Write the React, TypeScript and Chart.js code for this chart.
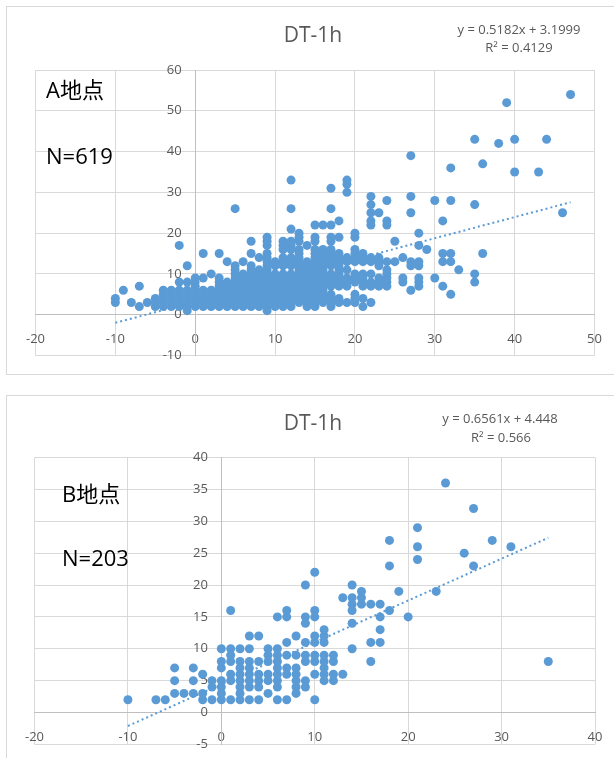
import React, { useEffect, useRef } from "react";
import { Chart, registerables } from "chart.js";

Chart.register(...registerables);

// ---------- Site A (N=619) : x columns and the y values observed in each ----------
const A_X = [
  -10, -9, -8, -7, -6, -5, -4, -3, -2, -1, 0, 1, 2, 3, 4, 5, 6, 7, 8, 9, 10, 11, 12, 13, 14, 15,
  16, 17, 18, 19, 20, 21, 22, 23, 24, 25, 26, 27, 28, 29, 30, 31, 32, 33, 35, 36, 38, 39, 40, 43, 44, 46, 47,
];
const A_Y: number[][] = [
  [3, 4],
  [6],
  [3],
  [7, 2],
  [3],
  [4, 3, 2],
  [6, 5, 4, 3, 2],
  [6, 5, 4, 3, 2],
  [17, 8, 6, 5, 4, 3, 2],
  [12, 8, 6, 5, 4, 3, 2, 1],
  [9, 8, 7, 6, 5, 4, 3, 2],
  [15, 9, 6, 5, 4, 3, 2],
  [10, 6, 5, 4, 3, 2],
  [15, 9, 8, 7, 6, 5, 4, 3, 2],
  [13, 8, 7, 6, 5, 4, 3, 2],
  [26, 12, 11, 10, 9, 8, 7, 6, 5, 4, 3, 2],
  [13, 10, 9, 8, 7, 6, 5, 4, 3, 2],
  [18, 15, 12, 11, 10, 9, 8, 7, 6, 5, 4, 3, 2],
  [14, 11, 10, 9, 8, 7, 6, 5, 4, 3, 2],
  [19, 18, 17, 15, 14, 13, 12, 11, 10, 9, 8, 7, 6, 5, 4, 3, 2, 1],
  [13, 12, 10, 9, 8, 7, 6, 5, 4, 3, 2],
  [18, 17, 16, 14, 13, 12, 10, 9, 8, 7, 6, 5, 4, 3, 2],
  [33, 26, 21, 18, 17, 16, 14, 13, 12, 10, 9, 8, 7, 6, 5, 4, 3, 2],
  [20, 19, 18, 16, 15, 14, 13, 12, 11, 10, 9, 8, 7, 6, 5, 4, 3],
  [17, 13, 12, 11, 10, 9, 8, 7, 6, 5, 4, 3, 2],
  [22, 19, 18, 16, 15, 14, 13, 12, 11, 10, 9, 8, 7, 6, 5, 4, 3, 2],
  [22, 16, 15, 14, 13, 12, 11, 10, 9, 8, 7, 6, 5, 4, 3],
  [31, 26, 22, 19, 18, 16, 15, 14, 13, 12, 10, 9, 8, 7, 5, 4, 3, 2],
  [23, 19, 15, 14, 13, 12, 11, 10, 9, 8, 7, 4, 3],
  [33, 32, 30, 14, 13, 11, 9, 8, 7, 3],
  [20, 19, 16, 15, 14, 13, 10, 9, 8, 5, 4, 3],
  [15, 14, 13, 10, 9, 8, 7, 4, 2],
  [29, 27, 25, 23, 22, 14, 13, 10, 8, 7, 3],
  [25, 14, 13, 12, 9, 8, 7],
  [28, 23, 22, 13, 11, 10, 9, 8, 7],
  [18, 13],
  [14, 9, 8],
  [39, 29, 25, 13, 12, 6],
  [20, 17, 13, 12, 9, 8, 7],
  [16],
  [28, 9],
  [23, 15, 13, 7],
  [36, 28, 15, 13, 5],
  [11],
  [43, 27, 10, 8],
  [37, 15],
  [42],
  [52],
  [43, 35],
  [35],
  [43],
  [25],
  [54],
];
const A_TREND_X = [-10, 47];
const A_TREND_Y = [-1.98, 27.56];
const A_X_TICKS = { min: -20, max: 50, step: 10 };
const A_Y_TICKS = { min: -10, max: 60, step: 10 };

// ---------- Site B (N=203) ----------
const B_X = [
  -10, -7, -6, -5, -4, -3, -2, -1, 0, 1, 2, 3, 4, 5, 6, 7, 8, 9, 10, 11, 12, 13, 14, 15, 16, 17, 18,
  19, 20, 21, 23, 24, 26, 27, 29, 31, 35,
];
const B_Y: number[][] = [
  [2],
  [2],
  [2],
  [7, 5, 3],
  [3],
  [7, 5, 3],
  [6, 3, 2],
  [5, 4, 2],
  [10, 8, 7, 5, 4, 3, 2],
  [16, 10, 9, 8, 6, 5, 2],
  [10, 8, 7, 6, 5, 4, 3, 2],
  [12, 10, 8, 7, 6, 5, 4, 2],
  [12, 8, 6, 5, 4, 2],
  [10, 9, 8, 6, 5, 3],
  [15, 10, 9, 8, 7, 6, 5, 4, 2],
  [16, 15, 11, 9, 7, 6, 2],
  [12, 9, 7, 6, 5, 4, 3],
  [20, 15, 14, 11, 9, 8, 5, 4],
  [22, 16, 15, 12, 11, 9, 8, 6, 2],
  [13, 12, 11, 9, 8, 7, 6, 5],
  [9, 8, 6, 5],
  [18, 6],
  [20, 18, 17, 16, 14, 10],
  [19, 18, 17],
  [17, 11, 8],
  [17, 15, 13, 11],
  [27, 23, 16],
  [19],
  [15],
  [29, 26, 24],
  [19],
  [36],
  [25],
  [32, 23],
  [27],
  [26],
  [8],
];
const B_TREND_X = [-10, 35];
const B_TREND_Y = [-2.11, 27.41];
const B_X_TICKS = { min: -20, max: 40, step: 10 };
const B_Y_TICKS = { min: -5, max: 40, step: 5 };

// ---------- texts ----------
const TITLE = "DT-1h";
const A_EQ = ["y = 0.5182x + 3.1999", "R² = 0.4129"];
const B_EQ = ["y = 0.6561x + 4.448", "R² = 0.566"];
const A_LABELS = ["A地点", "N=619"];
const B_LABELS = ["B地点", "N=203"];

const FONT = '"Open Sans", "Noto Sans CJK JP", sans-serif';
const BLUE = "#5b9bd5";
const GRID = "#d9d9d9";
const AXIS = "#bfbfbf";
const TEXT = "#595959";

type TextItem = { text: string; x: number; y: number; size: number; color: string; align: CanvasTextAlign };

const textPlugin = {
  id: "texts",
  afterDraw(chart: any, _args: any, opts: any) {
    const ctx = chart.ctx as CanvasRenderingContext2D;
    const items: TextItem[] = (opts && opts.items) || [];
    ctx.save();
    for (const it of items) {
      ctx.font = `${it.size}px ${FONT}`;
      ctx.fillStyle = it.color;
      ctx.textAlign = it.align;
      ctx.textBaseline = "middle";
      ctx.fillText(it.text, it.x, it.y);
    }
    ctx.restore();
  },
};

function buildPoints(xs: number[], ys: number[][]) {
  const pts: { x: number; y: number }[] = [];
  xs.forEach((x, i) => ys[i].forEach((y) => pts.push({ x, y })));
  return pts;
}

function makeConfig(
  xs: number[],
  ys: number[][],
  tx: number[],
  ty: number[],
  xt: { min: number; max: number; step: number },
  yt: { min: number; max: number; step: number },
  padding: any,
  texts: TextItem[]
): any {
  const tickFont = { family: FONT, size: 13 };
  return {
    type: "scatter",
    data: {
      datasets: [
        {
          type: "line",
          data: tx.map((x, i) => ({ x, y: ty[i] })),
          borderColor: BLUE,
          borderWidth: 2,
          borderDash: [2, 3],
          pointRadius: 0,
          fill: false,
          order: 0,
        },
        {
          data: buildPoints(xs, ys),
          backgroundColor: BLUE,
          borderColor: BLUE,
          borderWidth: 0,
          pointRadius: 4.5,
          order: 1,
        },
      ],
    },
    options: {
      animation: false,
      responsive: false,
      maintainAspectRatio: false,
      layout: { padding, autoPadding: false },
      plugins: {
        legend: { display: false },
        title: { display: false },
        tooltip: { enabled: false },
        texts: { items: texts },
      },
      scales: {
        x: {
          type: "linear",
          position: { y: 0 },
          min: xt.min,
          max: xt.max,
          ticks: { stepSize: xt.step, padding: 17, color: TEXT, font: tickFont, maxRotation: 0, autoSkip: false },
          grid: { color: GRID, drawTicks: false, lineWidth: 1 },
          border: { color: AXIS, width: 1 },
        },
        y: {
          type: "linear",
          position: { x: 0 },
          min: yt.min,
          max: yt.max,
          ticks: {
            stepSize: yt.step,
            padding: 0,
            color: TEXT,
            font: tickFont,
            autoSkip: false,
            callback: (v: any) => `${v}    `,
          },
          grid: { color: GRID, drawTicks: false, lineWidth: 1 },
          border: { color: AXIS, width: 1 },
        },
      },
    },
    plugins: [textPlugin],
  };
}

function ChartCanvas(props: { config: any; left: number; top: number; width: number; height: number }) {
  const ref = useRef<HTMLCanvasElement | null>(null);
  useEffect(() => {
    if (!ref.current) return;
    const chart = new Chart(ref.current, props.config);
    return () => chart.destroy();
  }, []);
  return (
    <canvas
      ref={ref}
      width={props.width}
      height={props.height}
      style={{ position: "absolute", left: props.left, top: props.top, width: props.width, height: props.height }}
    />
  );
}

export default function App() {
  const textsA: TextItem[] = [
    { text: TITLE, x: 313, y: 29, size: 21, color: TEXT, align: "center" },
    { text: A_EQ[0], x: 519, y: 23.5, size: 13, color: TEXT, align: "center" },
    { text: A_EQ[1], x: 519, y: 41.5, size: 13, color: TEXT, align: "center" },
    { text: A_LABELS[0], x: 46, y: 85, size: 22, color: "#000000", align: "left" },
    { text: A_LABELS[1], x: 46, y: 151, size: 22, color: "#000000", align: "left" },
  ];
  const textsB: TextItem[] = [
    { text: TITLE, x: 313, y: 28, size: 21, color: TEXT, align: "center" },
    { text: B_EQ[0], x: 500, y: 23.5, size: 13, color: TEXT, align: "center" },
    { text: B_EQ[1], x: 501, y: 42, size: 13, color: TEXT, align: "center" },
    { text: B_LABELS[0], x: 62, y: 100, size: 22, color: "#000000", align: "left" },
    { text: B_LABELS[1], x: 62, y: 164, size: 22, color: "#000000", align: "left" },
  ];
  const cfgA = makeConfig(A_X, A_Y, A_TREND_X, A_TREND_Y, A_X_TICKS, A_Y_TICKS,
    { left: 35.5, top: 63, right: 45.5, bottom: 17.5 }, textsA);
  const cfgB = makeConfig(B_X, B_Y, B_TREND_X, B_TREND_Y, B_X_TICKS, B_Y_TICKS,
    { left: 34.5, top: 61.5, right: 45, bottom: 13.6 }, textsB);

  return (
    <div style={{ position: "absolute", left: 0, top: 0, width: 614, height: 758, overflow: "hidden", background: "#fff" }}>
      <div style={{ position: "absolute", left: 6, top: 6, width: 640, height: 369, border: `1px solid ${GRID}`, boxSizing: "border-box" }} />
      <div style={{ position: "absolute", left: 6, top: 395, width: 640, height: 420, border: `1px solid ${GRID}`, boxSizing: "border-box" }} />
      <ChartCanvas config={cfgA} left={0} top={7} width={640} height={366} />
      <ChartCanvas config={cfgB} left={0} top={396} width={640} height={362} />
    </div>
  );
}
